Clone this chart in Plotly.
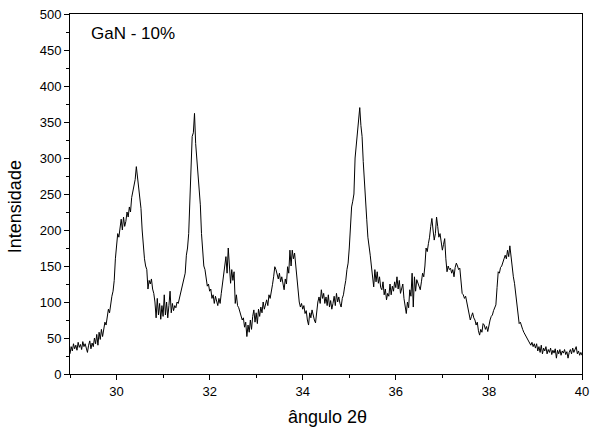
import plotly.graph_objects as go

# Intensity readings, one list per degree of 2-theta (steps of 0.025 deg)
i_29 = [28, 38, 32, 42, 35, 40, 33, 44, 37, 41, 34, 45, 38, 42, 36, 30, 40, 46, 35, 43,
        38, 50, 42, 55, 40, 58, 48, 62, 52, 66, 72, 68, 80, 90, 85, 98, 108, 115, 130, 160]
i_30 = [180, 195, 190, 205, 215, 200, 218, 205, 212, 225, 218, 232, 225, 245, 255, 262, 270, 288, 275, 262,
        242, 230, 200, 172, 160, 150, 145, 118, 130, 125, 132, 118, 112, 100, 78, 105, 82, 98, 76, 95]
i_31 = [80, 110, 82, 100, 78, 95, 115, 85, 98, 88, 95, 92, 100, 98, 105, 112, 118, 125, 135, 140,
        165, 175, 195, 240, 300, 330, 335, 362, 320, 300, 280, 255, 235, 195, 175, 150, 145, 130, 122, 125]
i_32 = [115, 118, 105, 110, 98, 108, 100, 95, 105, 98, 112, 125, 135, 150, 163, 140, 175, 150, 126, 145,
        130, 142, 98, 110, 95, 92, 85, 80, 75, 78, 65, 72, 52, 68, 58, 75, 62, 80, 89, 72]
i_33 = [85, 70, 90, 80, 93, 85, 100, 90, 98, 103, 95, 110, 105, 118, 124, 135, 149, 145, 138, 132,
        140, 128, 135, 122, 117, 132, 125, 149, 140, 172, 150, 172, 160, 168, 150, 140, 120, 100, 93, 98]
i_34 = [90, 95, 84, 88, 75, 68, 85, 78, 89, 80, 75, 71, 90, 100, 107, 98, 117, 105, 112, 98,
        107, 95, 110, 93, 102, 90, 98, 108, 95, 112, 100, 107, 98, 93, 105, 110, 121, 130, 145, 154]
i_35 = [175, 205, 232, 240, 250, 300, 318, 335, 350, 370, 345, 330, 295, 262, 250, 215, 190, 172, 165, 150,
        135, 121, 145, 128, 142, 126, 135, 120, 117, 128, 110, 118, 103, 112, 108, 125, 110, 122, 115, 128]
i_36 = [120, 135, 118, 130, 112, 117, 125, 105, 95, 84, 100, 92, 117, 108, 140, 93, 135, 115, 131, 125,
        120, 117, 128, 140, 135, 150, 175, 170, 181, 190, 205, 216, 200, 186, 195, 218, 205, 190, 195, 180]
i_37 = [172, 180, 188, 160, 142, 150, 145, 147, 140, 145, 135, 148, 154, 150, 145, 147, 125, 112, 110, 105,
        108, 100, 95, 85, 75, 80, 85, 78, 75, 68, 72, 60, 54, 62, 58, 70, 68, 62, 66, 59]
i_38 = [70, 75, 80, 82, 88, 92, 96, 120, 142, 140, 148, 150, 154, 160, 165, 160, 172, 163, 178, 160,
        150, 135, 126, 110, 95, 85, 70, 72, 65, 62, 58, 55, 50, 48, 45, 42, 40, 44, 38, 42]
i_39 = [36, 42, 32, 38, 30, 40, 28, 36, 32, 38, 28, 34, 30, 36, 27, 33, 29, 35, 22, 33,
        28, 34, 26, 32, 29, 34, 27, 31, 22, 30, 34, 28, 36, 30, 33, 38, 28, 32, 26, 30]
i_40 = [26]

segments = [(29, i_29), (30, i_30), (31, i_31), (32, i_32), (33, i_33), (34, i_34),
            (35, i_35), (36, i_36), (37, i_37), (38, i_38), (39, i_39), (40, i_40)]
angle, intensity = [], []
for start, vals in segments:
    step = 1.0 / len(vals)
    for k, v in enumerate(vals):
        angle.append(round(start + k * step, 4))
        intensity.append(v)

x_ticks = [30, 32, 34, 36, 38, 40]
y_ticks = [0, 50, 100, 150, 200, 250, 300, 350, 400, 450, 500]

fig = go.Figure()
fig.add_trace(go.Scatter(x=angle, y=intensity, mode="lines",
                         line=dict(color="black", width=1), showlegend=False))

font = "Liberation Sans, Arial, sans-serif"
axis_common = dict(ticks="outside", ticklen=5, tickwidth=1, tickcolor="black",
                   showline=True, linecolor="black", linewidth=1, mirror=True,
                   showgrid=False, zeroline=False, automargin=False,
                   tickfont=dict(size=13, family=font))
fig.update_layout(
    width=590, height=438,
    margin=dict(l=70, r=8, t=14, b=64),
    paper_bgcolor="white", plot_bgcolor="white",
    font=dict(family=font, color="black", size=13),
    xaxis=dict(range=[29, 40], tickvals=x_ticks,
               minor=dict(dtick=1, tick0=29, ticks="outside", ticklen=3, tickcolor="black", showgrid=False),
               **axis_common),
    yaxis=dict(range=[0, 500], tickvals=y_ticks,
               minor=dict(dtick=25, tick0=0, ticks="outside", ticklen=3, tickcolor="black", showgrid=False),
               **axis_common),
)
fig.add_annotation(text="ângulo 2θ", x=0.502, y=-0.119, xref="paper", yref="paper",
                   xanchor="center", yanchor="middle", showarrow=False,
                   font=dict(size=18, family=font))
fig.add_annotation(text="Intensidade", x=-0.107, y=0.464, xref="paper", yref="paper",
                   xanchor="center", yanchor="middle", showarrow=False, textangle=-90,
                   font=dict(size=18, family=font))
fig.add_annotation(text="GaN - 10%", x=0.038, y=0.947, xref="paper", yref="paper",
                   xanchor="left", yanchor="middle", showarrow=False,
                   font=dict(size=17, family=font))
fig.write_html("out.html")
